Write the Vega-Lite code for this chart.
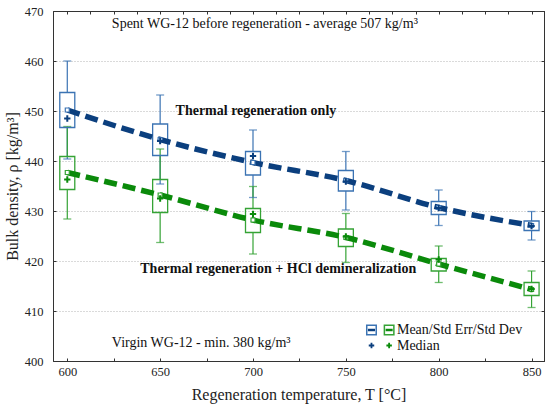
{
  "$schema": "https://vega.github.io/schema/vega-lite/v6.json",
  "width": 491,
  "height": 350,
  "autosize": {"type": "none"},
  "padding": {"left": 53, "top": 11, "right": 6, "bottom": 49},
  "background": "white",
  "config": {
    "view": {"stroke": "#333333", "strokeWidth": 1},
    "font": "Liberation Serif",
    "axis": {
      "domainColor": "#333333",
      "tickColor": "#333333",
      "labelColor": "#222222",
      "titleColor": "#222222",
      "labelFont": "Liberation Serif",
      "titleFont": "Liberation Serif",
      "labelFontSize": 12.5,
      "titleFontSize": 16,
      "titleFontWeight": "normal"
    }
  },
  "datasets": {
    "stats": [
      {"T": 600, "series": "Thermal", "mean": 450.2, "se_lo": 446.7, "se_hi": 453.7, "sd_lo": 440.4, "sd_hi": 460.0, "median": 448.5},
      {"T": 650, "series": "Thermal", "mean": 444.3, "se_lo": 441.1, "se_hi": 447.4, "sd_lo": 435.4, "sd_hi": 453.2, "median": 444.0},
      {"T": 700, "series": "Thermal", "mean": 439.7, "se_lo": 437.2, "se_hi": 441.9, "sd_lo": 432.7, "sd_hi": 446.2, "median": 441.0},
      {"T": 750, "series": "Thermal", "mean": 436.1, "se_lo": 434.0, "se_hi": 438.1, "sd_lo": 430.2, "sd_hi": 441.9, "median": 435.9},
      {"T": 800, "series": "Thermal", "mean": 430.7, "se_lo": 429.3, "se_hi": 431.9, "sd_lo": 427.1, "sd_hi": 434.2, "median": 430.6},
      {"T": 850, "series": "Thermal", "mean": 427.1, "se_lo": 426.1, "se_hi": 428.0, "sd_lo": 424.2, "sd_hi": 429.9, "median": 427.0},
      {"T": 600, "series": "HCl", "mean": 437.7, "se_lo": 434.3, "se_hi": 440.9, "sd_lo": 428.4, "sd_hi": 446.9, "median": 436.3},
      {"T": 650, "series": "HCl", "mean": 433.2, "se_lo": 429.7, "se_hi": 436.3, "sd_lo": 423.7, "sd_hi": 442.4, "median": 432.5},
      {"T": 700, "series": "HCl", "mean": 428.2, "se_lo": 425.7, "se_hi": 430.5, "sd_lo": 421.4, "sd_hi": 434.9, "median": 429.4},
      {"T": 750, "series": "HCl", "mean": 424.7, "se_lo": 422.9, "se_hi": 426.4, "sd_lo": 419.7, "sd_hi": 429.5, "median": 424.9},
      {"T": 800, "series": "HCl", "mean": 419.4, "se_lo": 418.0, "se_hi": 420.5, "sd_lo": 415.7, "sd_hi": 423.0, "median": 420.3},
      {"T": 850, "series": "HCl", "mean": 414.3, "se_lo": 413.1, "se_hi": 415.7, "sd_lo": 410.7, "sd_hi": 418.0, "median": 414.4}
    ],
    "notes": [
      {"x": 624, "y": 467.4, "text": "Spent WG-12 before regeneration - average 507 kg/m³", "bold": false},
      {"x": 658.3, "y": 450.0, "text": "Thermal regeneration only", "bold": true},
      {"x": 639.3, "y": 418.5, "text": "Thermal regeneration + HCl demineralization", "bold": true},
      {"x": 624, "y": 403.6, "text": "Virgin WG-12 - min. 380 kg/m³", "bold": false},
      {"x": 777.5, "y": 406.2, "text": "Mean/Std Err/Std Dev", "bold": false},
      {"x": 777.5, "y": 403.1, "text": "Median", "bold": false}
    ],
    "legend": [
      {"x": 763.8, "y": 406.2, "y2": 403.1, "series": "Thermal"},
      {"x": 773.3, "y": 406.2, "y2": 403.1, "series": "HCl"}
    ]
  },
  "resolve": {"axis": {"x": "independent", "y": "independent"}},
  "layer": [
    {
      "data": {"name": "stats"},
      "layer": [
        {
          "mark": {"type": "rule", "strokeWidth": 1.2},
          "encoding": {
            "x": {
              "field": "T", "type": "quantitative",
              "scale": {"domain": [595, 854], "nice": false, "zero": false},
              "title": "Regeneration temperature, T [°C]",
              "axis": {
                "values": [600, 612.5, 625, 637.5, 650, 662.5, 675, 687.5, 700, 712.5, 725, 737.5, 750, 762.5, 775, 787.5, 800, 812.5, 825, 837.5, 850],
                "labelExpr": "datum.value % 50 == 0 ? datum.label : ''",
                "tickSize": -3,
                "labelPadding": 7,
                "titlePadding": 9,
                "grid": false
              }
            },
            "y": {
              "field": "sd_lo", "type": "quantitative",
              "scale": {"domain": [400, 470], "nice": false, "zero": false},
              "title": "Bulk density, ρ [kg/m³]",
              "axis": {
                "values": [400, 410, 420, 430, 440, 450, 460, 470],
                "tickSize": -3,
                "labelPadding": 13,
                "titlePadding": 4,
                "grid": true,
                "gridColor": "#b5b5b5",
                "gridDash": [1, 2],
                "gridWidth": 1
              }
            },
            "y2": {"field": "se_lo"},
            "color": {"field": "series", "type": "nominal", "scale": {"domain": ["Thermal", "HCl"], "range": ["#3b73b3", "#35a335"]}, "legend": null}
          }
        },
        {
          "mark": {"type": "rule", "strokeWidth": 1.2},
          "encoding": {
            "x": {"field": "T", "type": "quantitative"},
            "y": {"field": "se_hi", "type": "quantitative"},
            "y2": {"field": "sd_hi"},
            "color": {"field": "series", "type": "nominal", "legend": null}
          }
        },
        {
          "mark": {"type": "tick", "orient": "horizontal", "size": 8, "thickness": 1.3},
          "encoding": {
            "x": {"field": "T", "type": "quantitative"},
            "y": {"field": "sd_lo", "type": "quantitative"},
            "color": {"field": "series", "type": "nominal", "legend": null}
          }
        },
        {
          "mark": {"type": "tick", "orient": "horizontal", "size": 8, "thickness": 1.3},
          "encoding": {
            "x": {"field": "T", "type": "quantitative"},
            "y": {"field": "sd_hi", "type": "quantitative"},
            "color": {"field": "series", "type": "nominal", "legend": null}
          }
        },
        {
          "mark": {"type": "bar", "width": 15, "filled": false, "strokeWidth": 1.3},
          "encoding": {
            "x": {"field": "T", "type": "quantitative"},
            "y": {"field": "se_lo", "type": "quantitative"},
            "y2": {"field": "se_hi"},
            "color": {"field": "series", "type": "nominal", "legend": null}
          }
        },
        {
          "mark": {"type": "line", "strokeWidth": 5.5, "strokeDash": [13, 6], "interpolate": "monotone"},
          "encoding": {
            "x": {"field": "T", "type": "quantitative"},
            "y": {"field": "mean", "type": "quantitative"},
            "stroke": {"field": "series", "type": "nominal", "scale": {"domain": ["Thermal", "HCl"], "range": ["#0b3f7e", "#0a8a0a"]}, "legend": null}
          }
        },
        {
          "mark": {"type": "point", "shape": "square", "size": 16, "filled": false, "fill": "white", "strokeWidth": 1.2, "opacity": 1},
          "encoding": {
            "x": {"field": "T", "type": "quantitative"},
            "y": {"field": "mean", "type": "quantitative"},
            "color": {"field": "series", "type": "nominal", "legend": null}
          }
        },
        {
          "mark": {"type": "point", "shape": "M-1,0H1M0,-1V1", "size": 40, "filled": false, "strokeWidth": 2, "opacity": 1},
          "encoding": {
            "x": {"field": "T", "type": "quantitative"},
            "y": {"field": "median", "type": "quantitative"},
            "stroke": {"field": "series", "type": "nominal", "legend": null}
          }
        },
        {
          "data": {"name": "notes"},
          "transform": [{"filter": "datum.bold"}],
          "mark": {"type": "text", "align": "left", "baseline": "middle", "font": "Liberation Serif", "fontSize": 14, "fontWeight": "bold", "color": "#111111"},
          "encoding": {
            "x": {"field": "x", "type": "quantitative"},
            "y": {"field": "y", "type": "quantitative"},
            "text": {"field": "text"}
          }
        },
        {
          "data": {"name": "notes"},
          "transform": [{"filter": "!datum.bold"}],
          "mark": {"type": "text", "align": "left", "baseline": "middle", "font": "Liberation Serif", "fontSize": 14, "color": "#111111"},
          "encoding": {
            "x": {"field": "x", "type": "quantitative"},
            "y": {"field": "y", "type": "quantitative"},
            "text": {"field": "text"}
          }
        },
        {
          "data": {"name": "legend"},
          "mark": {"type": "point", "shape": "square", "size": 90, "filled": false, "fill": "white", "strokeWidth": 1.5, "opacity": 1},
          "encoding": {
            "x": {"field": "x", "type": "quantitative"},
            "y": {"field": "y", "type": "quantitative"},
            "color": {"field": "series", "type": "nominal", "legend": null}
          }
        },
        {
          "data": {"name": "legend"},
          "mark": {"type": "point", "shape": "M-1,-0.35H1V0.35H-1Z", "size": 50, "filled": true, "opacity": 1},
          "encoding": {
            "x": {"field": "x", "type": "quantitative"},
            "y": {"field": "y", "type": "quantitative"},
            "fill": {"field": "series", "type": "nominal", "scale": {"domain": ["Thermal", "HCl"], "range": ["#0b3f7e", "#0a8a0a"]}, "legend": null}
          }
        },
        {
          "data": {"name": "legend"},
          "mark": {"type": "point", "shape": "M-1,0H1M0,-1V1", "size": 30, "filled": false, "strokeWidth": 1.8, "opacity": 1},
          "encoding": {
            "x": {"field": "x", "type": "quantitative"},
            "y": {"field": "y2", "type": "quantitative"},
            "stroke": {"field": "series", "type": "nominal", "legend": null}
          }
        }
      ]
    },
    {
      "data": {"name": "legend"},
      "mark": {"type": "point", "opacity": 0},
      "encoding": {
        "x": {
          "field": "x", "type": "quantitative",
          "axis": {
            "orient": "top",
            "values": [600, 612.5, 625, 637.5, 650, 662.5, 675, 687.5, 700, 712.5, 725, 737.5, 750, 762.5, 775, 787.5, 800, 812.5, 825, 837.5, 850],
            "labels": false, "title": null, "tickSize": -3, "grid": false
          }
        },
        "y": {
          "field": "y", "type": "quantitative",
          "axis": {
            "orient": "right",
            "values": [400, 410, 420, 430, 440, 450, 460, 470],
            "labels": false, "title": null, "tickSize": -3, "grid": false
          }
        }
      }
    }
  ]
}
